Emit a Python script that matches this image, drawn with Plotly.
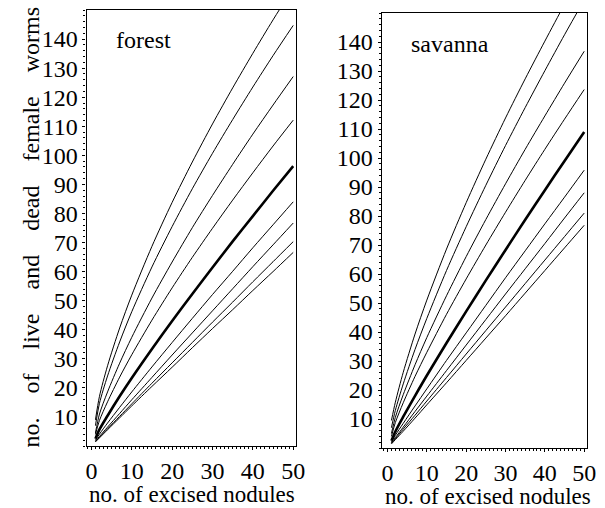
import plotly.graph_objects as go

# x values (no. of excised nodules) at which curves were read
x_nodules = [1, 2, 4, 7, 10, 15, 20, 25, 30, 35, 40, 45, 50]

# forest panel curves (top to bottom); thick = median
forest_1 = [9.0, 17.1, 27.6, 40.6, 51.9, 68.7, 83.8, 97.7, 110.8, 123.2, 135.1, 146.6, 157.6]
forest_2 = [7.0, 14.7, 24.1, 35.8, 46.2, 61.6, 75.5, 88.5, 100.7, 112.3, 123.5, 134.3, 144.7]
forest_3 = [4.5, 11.0, 18.6, 28.5, 37.4, 50.9, 63.3, 75.1, 86.2, 96.9, 107.3, 117.3, 127.1]
forest_4 = [4.0, 8.8, 15.2, 23.7, 31.4, 43.3, 54.4, 64.9, 74.9, 84.6, 94.0, 103.2, 112.1]
forest_med = [2.5, 5.7, 10.4, 17.1, 23.4, 33.4, 43.0, 52.3, 61.4, 70.4, 79.1, 87.8, 96.3]
forest_6 = [2.0, 4.1, 7.9, 13.3, 18.6, 27.2, 35.6, 43.9, 52.1, 60.1, 68.2, 76.1, 84.0]
forest_7 = [1.7, 3.3, 6.5, 11.2, 15.9, 23.6, 31.3, 38.9, 46.5, 54.1, 61.7, 69.2, 76.7]
forest_8 = [1.5, 3.0, 5.9, 10.2, 14.5, 21.6, 28.6, 35.6, 42.6, 49.5, 56.5, 63.4, 70.3]
forest_9 = [1.4, 2.8, 5.6, 9.7, 13.8, 20.5, 27.1, 33.8, 40.4, 46.9, 53.5, 60.0, 66.6]

# savanna panel curves
savanna_1 = [9.5, 15.8, 26.1, 39.3, 51.0, 68.6, 84.6, 99.6, 113.8, 127.3, 140.3, 153.0, 165.2]
savanna_2 = [7.0, 13.0, 22.1, 34.0, 44.7, 61.2, 76.3, 90.6, 104.3, 117.4, 130.1, 142.5, 154.5]
savanna_3 = [5.0, 10.6, 18.4, 28.7, 38.1, 52.5, 66.0, 78.8, 91.1, 103.0, 114.5, 125.8, 136.8]
savanna_4 = [4.0, 8.8, 15.6, 24.7, 33.0, 46.1, 58.3, 70.0, 81.3, 92.3, 103.0, 113.4, 123.6]
savanna_med = [2.5, 5.7, 10.8, 18.0, 25.0, 36.2, 47.1, 57.8, 68.3, 78.7, 88.9, 99.0, 109.0]
savanna_6 = [2.0, 4.4, 8.5, 14.5, 20.4, 30.2, 39.7, 49.2, 58.7, 68.0, 77.3, 86.5, 95.8]
savanna_7 = [1.8, 3.6, 7.2, 12.6, 17.9, 26.7, 35.5, 44.3, 53.1, 61.8, 70.5, 79.3, 88.0]
savanna_8 = [1.6, 3.2, 6.5, 11.3, 16.2, 24.3, 32.4, 40.5, 48.6, 56.7, 64.8, 72.9, 81.0]
savanna_9 = [1.4, 2.9, 5.8, 10.3, 14.9, 22.5, 30.2, 37.9, 45.6, 53.4, 61.2, 69.0, 76.8]

forest = [forest_1, forest_2, forest_3, forest_4, forest_med, forest_6, forest_7, forest_8, forest_9]
savanna = [savanna_1, savanna_2, savanna_3, savanna_4, savanna_med, savanna_6, savanna_7, savanna_8, savanna_9]
thick_index = 4

y_ticks = [10, 20, 30, 40, 50, 60, 70, 80, 90, 100, 110, 120, 130, 140]
x_ticks = [0, 10, 20, 30, 40, 50]

W, H = 605, 508
FONT = "Liberation Serif, Times New Roman, DejaVu Serif, serif"

fig = go.Figure()
for panel, (xa, ya) in ((forest, ("x", "y")), (savanna, ("x2", "y2"))):
    for i, ys in enumerate(panel):
        fig.add_trace(go.Scatter(
            x=x_nodules, y=ys, mode="lines", xaxis=xa, yaxis=ya,
            line=dict(color="black", width=2.6 if i == thick_index else 1.0,
                      shape="spline", smoothing=0.8),
            showlegend=False, hoverinfo="skip"))

def px_x(p):
    return p / W

def px_y(p):
    return 1 - p / H

axis_common = dict(showline=True, linecolor="black", linewidth=1.2, mirror=True,
                   ticks="outside", ticklen=3, tickwidth=1.2, tickcolor="black",
                   showgrid=False, zeroline=False,
                   tickfont=dict(family=FONT, size=24, color="black"))

fig.update_layout(
    width=W, height=H, margin=dict(l=0, r=0, t=0, b=0),
    paper_bgcolor="white", plot_bgcolor="white",
    xaxis=dict(domain=[px_x(87), px_x(300)], range=[-1.2, 50.7], anchor="y",
               tickvals=x_ticks, minor=dict(dtick=1, tick0=0, ticks="outside", ticklen=2, tickcolor="black"),
               **axis_common),
    yaxis=dict(domain=[px_y(446), px_y(10)], range=[0, 150], anchor="x",
               tickvals=y_ticks, minor=dict(dtick=2, tick0=0, ticks="outside", ticklen=2, tickcolor="black"),
               **axis_common),
    xaxis2=dict(domain=[px_x(387), px_x(596)], range=[-1.5, 50.75], anchor="y2",
                tickvals=x_ticks, minor=dict(dtick=1, tick0=0, ticks="outside", ticklen=2, tickcolor="black"),
                **axis_common),
    yaxis2=dict(domain=[px_y(448), px_y(13)], range=[0, 150], anchor="x2",
                tickvals=y_ticks, minor=dict(dtick=2, tick0=0, ticks="outside", ticklen=2, tickcolor="black"),
                **axis_common),
)

sp = "\u00a0\u00a0\u00a0\u00a0"
ytitle = sp.join(["no.", "of", "live", "and", "dead", "female", "worms"])

annots = [
    dict(text="forest", x=px_x(115), y=px_y(40), xanchor="left", yanchor="middle", size=24),
    dict(text="savanna", x=px_x(415), y=px_y(44), xanchor="left", yanchor="middle", size=24),
    dict(text="no. of excised nodules", x=px_x(194), y=px_y(494), xanchor="center", yanchor="middle", size=23),
    dict(text="no. of excised nodules", x=px_x(495), y=px_y(496), xanchor="center", yanchor="middle", size=23),
]
for a in annots:
    fig.add_annotation(text=a["text"], x=a["x"], y=a["y"], xref="paper", yref="paper",
                       xanchor=a["xanchor"], yanchor=a["yanchor"], showarrow=False,
                       font=dict(family=FONT, size=a["size"], color="black"))
fig.add_annotation(text=ytitle, x=px_x(31), y=px_y(227), xref="paper", yref="paper",
                   xanchor="center", yanchor="middle", showarrow=False, textangle=-90,
                   font=dict(family=FONT, size=24, color="black"))

fig.write_html("out.html", config={"displayModeBar": False})

# remove default page margin so the figure sits at the window's top-left corner
with open("out.html", encoding="utf-8") as f:
    html = f.read()
html = html.replace("<head>", "<head><style>html,body{margin:0;padding:0;overflow:hidden;}</style>", 1)
with open("out.html", "w", encoding="utf-8") as f:
    f.write(html)
